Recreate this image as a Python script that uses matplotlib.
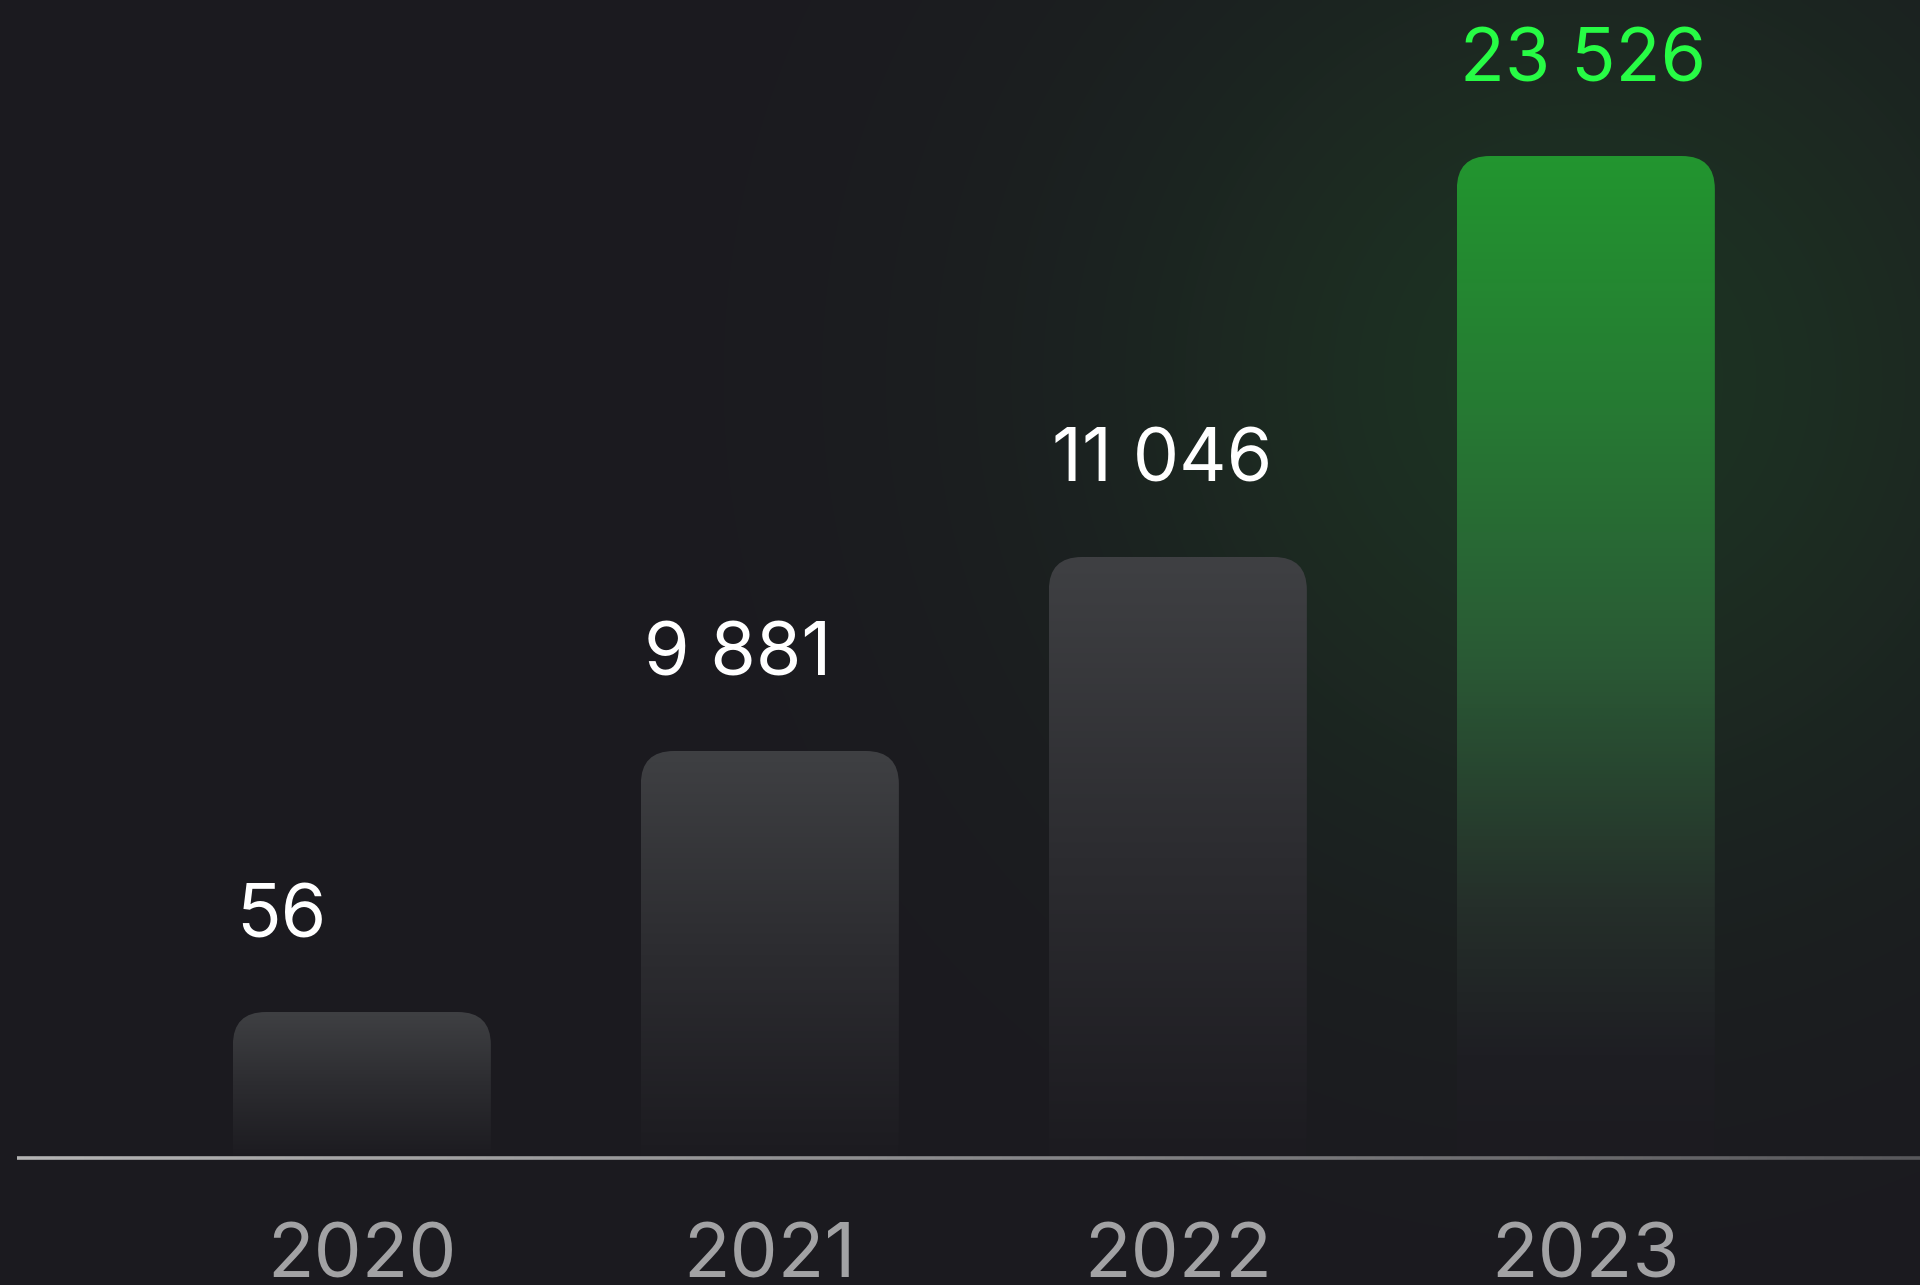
import numpy as np
import matplotlib.pyplot as plt
from matplotlib.patches import FancyBboxPatch
from matplotlib.collections import LineCollection
from matplotlib.colors import LinearSegmentedColormap, to_rgb

# data
years = ["2020", "2021", "2022", "2023"]
values = [56, 9881, 11046, 23526]
bar_heights = [146, 407, 601, 1002]   # drawn heights in the graphic (not to scale)
highlight = [False, False, False, True]

# layout (axes units: x = category, y = pixels above baseline)
px_per_cat = 408
xmin, xmax = -0.887, 3.819
ymin, ymax = -127, 1158
bw = 258 / px_per_cat
radius = 33 / px_per_cat

bg_col = "#1b1a1f"
gray_cmap = LinearSegmentedColormap.from_list("g", ["#1c1b20", "#2c2c30", "#3f4043"])
green_cmap = LinearSegmentedColormap.from_list(
    "gr", [(0, "#1c1b20"), (0.1, "#1e1e23"), (0.25, "#252f2a"),
           (0.5, "#2a5a35"), (0.75, "#267a33"), (1.0, "#22952f")])

fig = plt.figure(figsize=(19.2, 12.85), dpi=100)
fig.patch.set_facecolor(bg_col)
ax = fig.add_axes([0, 0, 1, 1])
ax.set_facecolor(bg_col)

# background glow behind the last bar
gx, gy = np.meshgrid(np.linspace(xmin, xmax, 480), np.linspace(ymin, ymax, 320))
dx = (gx - 3) * px_per_cat
dy = gy - 780
w = np.exp(-(dx ** 2 / (2 * 340 ** 2) + dy ** 2 / (2 * 340 ** 2)))
bg = np.array(to_rgb(bg_col))
glow = np.array(to_rgb("#1d3323"))
img = bg + (glow - bg) * w[..., None]
ax.imshow(img, extent=[xmin, xmax, ymin, ymax], origin="lower", aspect="auto",
          interpolation="bilinear", zorder=0)

# bars with rounded tops and vertical gradients
grad = np.linspace(0, 1, 256).reshape(-1, 1)
for i, (h, hl) in enumerate(zip(bar_heights, highlight)):
    left = i - bw / 2
    patch = FancyBboxPatch((left, -80), bw, h + 80,
                           boxstyle=f"round,pad=0,rounding_size={radius}",
                           mutation_aspect=px_per_cat, fc="none", ec="none")
    ax.add_patch(patch)
    cmap = green_cmap if hl else gray_cmap
    im = ax.imshow(grad, cmap=cmap, extent=[left, left + bw, 0, h], origin="lower",
                   aspect="auto", interpolation="bilinear", zorder=2)
    im.set_clip_path(patch)

    label = f"{values[i]:,}".replace(",", " ")
    ax.text(left + 3 / px_per_cat, h + 75, label, ha="left", va="baseline",
            fontsize=53, family="Inter", color="#27fc45" if hl else "white", zorder=3)
    ax.text(i, -64, years[i], ha="center", va="top", fontsize=55,
            family="Inter", color="#a2a2a4", zorder=3)

# baseline with a fading gradient
xs = np.linspace(xmin + 17 / px_per_cat, xmax, 200)
segs = [[(xs[k], 0), (xs[k + 1], 0)] for k in range(len(xs) - 1)]
cols = LinearSegmentedColormap.from_list("l", ["#b4b4b4", "#8a8a8c", "#58585b"])(np.linspace(0, 1, len(segs)))
ax.add_collection(LineCollection(segs, colors=cols, linewidths=2.6, zorder=4))

ax.set_xlim(xmin, xmax)
ax.set_ylim(ymin, ymax)
ax.axis("off")

fig.savefig("out.png", dpi=100, facecolor=bg_col)
